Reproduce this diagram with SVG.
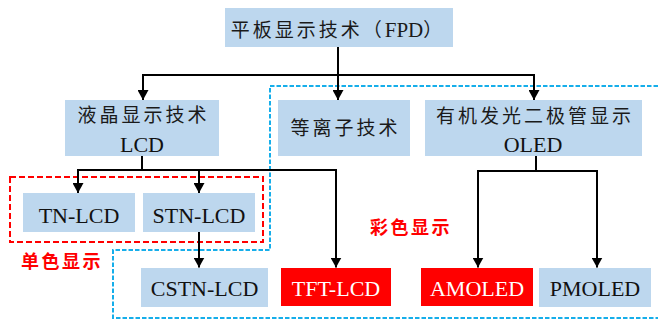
<svg xmlns="http://www.w3.org/2000/svg" width="658" height="320" viewBox="0 0 658 320">
  <style>
    .box { fill: #bdd7ee; }
    .hot { fill: #ff0000; }
    .cjk { font-family: "Liberation Serif", "Noto Sans CJK SC", serif; font-size: 19px; letter-spacing: 3px; fill: #1a1a1a; text-anchor: middle; }
    .lat { font-family: "Liberation Serif", serif; font-size: 22px; fill: #111; text-anchor: middle; letter-spacing: 0; }
    .white { fill: #ffffff; }
    .note { font-family: "Noto Sans CJK SC", sans-serif; font-weight: 700; font-size: 18px; letter-spacing: 2.5px; fill: #ff0000; }
    .link { fill: none; stroke: #000; stroke-width: 2; marker-end: url(#arrow); }
    .group-red { fill: none; stroke: #ff0000; stroke-width: 2; stroke-dasharray: 6 3; }
    .group-blue { fill: none; stroke: #16aeea; stroke-width: 2; stroke-dasharray: 4.5 2; }
  </style>
  <defs>
    <marker id="arrow" viewBox="0 0 10 11" refX="10" refY="5.5" markerWidth="10" markerHeight="11" markerUnits="userSpaceOnUse" orient="auto">
      <path d="M0,0 L10,5.5 L0,11 z" fill="#000"/>
    </marker>
  </defs>

  <!-- grouping frames -->
  <g id="frames">
    <rect class="group-red" x="10" y="177" width="253" height="65"/>
    <path class="group-blue" d="M658,86 H270 V250 H113 V318 H658"/>
    <text class="note" x="21" y="268">单色显示</text>
    <text class="note" x="370" y="234">彩色显示</text>
  </g>

  <!-- connectors -->
  <g id="connectors">
    <path class="link" d="M338,47 V75 H143 V100"/>
    <path class="link" d="M338,75 V100"/>
    <path class="link" d="M338,75 H534 V100"/>
    <path class="link" d="M142,156 V170 H78 V193"/>
    <path class="link" d="M142,170 H199 V193"/>
    <path class="link" d="M199,170 H336 V267.5"/>
    <path class="link" d="M199,232 V267.5"/>
    <path class="link" d="M536,156 V171 H478 V267.5"/>
    <path class="link" d="M536,171 H597 V267.5"/>
  </g>

  <g id="fpd">
    <rect class="box" x="225" y="8" width="228" height="39"/>
    <text class="cjk" x="338" y="36.5">平板显示技术（<tspan style="font-family:'Liberation Serif',serif;font-size:21px;letter-spacing:0">FPD</tspan>）</text>
  </g>

  <g id="lcd">
    <rect class="box" x="65" y="100" width="154" height="56"/>
    <text class="cjk" x="143.5" y="122">液晶显示技术</text>
    <text class="lat" x="142" y="151.5">LCD</text>
  </g>

  <g id="pdp">
    <rect class="box" x="278" y="100" width="132" height="56"/>
    <text class="cjk" x="345.5" y="135">等离子技术</text>
  </g>

  <g id="oled">
    <rect class="box" x="425" y="100" width="217" height="56"/>
    <text class="cjk" x="535" y="123">有机发光二极管显示</text>
    <text class="lat" x="533" y="151.5">OLED</text>
  </g>

  <g id="tn-lcd">
    <rect class="box" x="23" y="193" width="112" height="39"/>
    <text class="lat" x="79" y="222.5">TN-LCD</text>
  </g>

  <g id="stn-lcd">
    <rect class="box" x="143" y="193" width="112" height="39"/>
    <text class="lat" x="199" y="222.5">STN-LCD</text>
  </g>

  <g id="cstn-lcd">
    <rect class="box" x="141" y="268" width="127" height="39"/>
    <text class="lat" x="204.5" y="296">CSTN-LCD</text>
  </g>

  <g id="tft-lcd">
    <rect class="hot" x="281" y="268" width="110" height="38"/>
    <text class="lat white" x="336" y="296">TFT-LCD</text>
  </g>

  <g id="amoled">
    <rect class="hot" x="421" y="268" width="112" height="38"/>
    <text class="lat white" x="477" y="296">AMOLED</text>
  </g>

  <g id="pmoled">
    <rect class="box" x="539" y="268" width="112" height="39"/>
    <text class="lat" x="595" y="296">PMOLED</text>
  </g>
</svg>
